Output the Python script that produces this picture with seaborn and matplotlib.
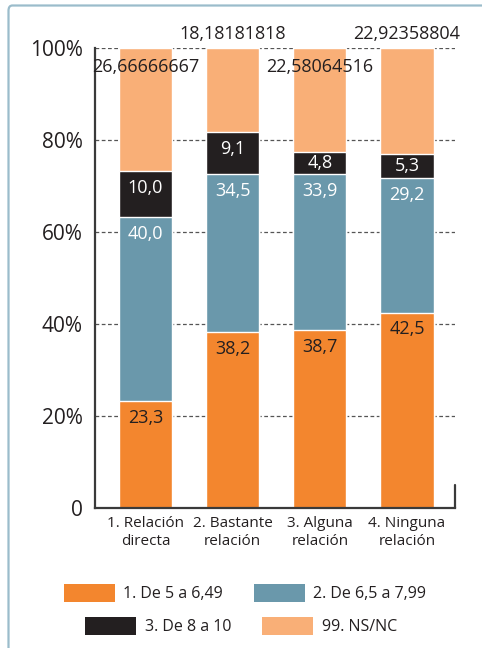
import matplotlib
matplotlib.use("Agg")
import matplotlib.pyplot as plt
from matplotlib.patches import Rectangle, FancyBboxPatch
import seaborn as sns
import numpy as np
import pandas as pd

# ---- data ----
categories = ["1. Relación\ndirecta", "2. Bastante\nrelación", "3. Alguna\nrelación", "4. Ninguna\nrelación"]
serie_1 = [23.3, 38.2, 38.7, 42.5]          # 1. De 5 a 6,49
serie_2 = [40.0, 34.5, 33.9, 29.2]          # 2. De 6,5 a 7,99
serie_3 = [10.0, 9.1, 4.8, 5.3]             # 3. De 8 a 10
serie_99 = [26.66666667, 18.18181818, 22.58064516, 22.92358804]  # 99. NS/NC
series_names = ["1. De 5 a 6,49", "2. De 6,5 a 7,99", "3. De 8 a 10", "99. NS/NC"]
yticks = [0, 20, 40, 60, 80, 100]
ytick_labels = ["0", "20%", "40%", "60%", "80%", "100%"]

colors = ["#F3862E", "#6A98AB", "#231F20", "#F9AF77"]
label_colors = ["#231F20", "white", "white", "#231F20"]
dark = "#231F20"

sns.set_theme(style="white")
plt.rcParams["font.family"] = ["Open Sans", "DejaVu Sans"]

fig = plt.figure(figsize=(4.82, 6.48), dpi=100)
ax = fig.add_axes([95 / 482, 1 - 508 / 648, (455 - 95) / 482, 460 / 648])

values = np.array([serie_1, serie_2, serie_3, serie_99])
cum = np.cumsum(values, axis=0)

# draw from top (cumulative) down so lower series overlay
for k in range(len(series_names) - 1, -1, -1):
    df = pd.DataFrame({"cat": categories, "val": cum[k]})
    sns.barplot(data=df, x="cat", y="val", color=colors[k], saturation=1,
                width=0.61, ax=ax, order=categories, zorder=2)

ax.set_xlim(-0.58, 3.55)
ax.set_ylim(0, 100)

px_per_unit = 460 / 100.0

# segment labels
for k in range(3):
    for i in range(len(categories)):
        top = cum[k][i]
        h = values[k][i]
        off = min(17 / px_per_unit, h / 2)
        ax.text(i, top - off, f"{values[k][i]:.1f}".replace(".", ","),
                ha="center", va="center", fontsize=13, color=label_colors[k], zorder=5)

# NS/NC labels (alternating inside / above)
for i in range(len(categories)):
    txt = f"{serie_99[i]:.8f}".replace(".", ",")
    if i % 2 == 0:
        y = 100 - 19 / px_per_unit
    else:
        y = 100 + 14 / px_per_unit
    ax.text(i, y, txt, ha="center", va="center", fontsize=13, color=dark,
            zorder=5, clip_on=False)

# grid
for yv in yticks[1:]:
    ax.axhline(yv, color="#555555", lw=0.9, ls=(0, (3, 2)), zorder=1)

ax.set_yticks(yticks)
ax.set_yticklabels(ytick_labels)
ax.tick_params(axis="y", length=0, pad=9, labelsize=15, labelcolor=dark)
ax.tick_params(axis="x", length=0, pad=6, labelsize=11, labelcolor=dark)
ax.set_xlabel("")
ax.set_ylabel("")

for s in ["top", "right"]:
    ax.spines[s].set_visible(False)
for s in ["left", "bottom"]:
    ax.spines[s].set_color("#3a3a3a")
    ax.spines[s].set_linewidth(1.6)
ax.axvline(3.55, ymin=0, ymax=0.05, color="#3a3a3a", lw=1.6, clip_on=False)

# legend (two rows)
def handles(idx):
    return [Rectangle((0, 0), 1, 1, fc=colors[j], ec="none") for j in idx]

leg_kw = dict(frameon=False, handlelength=3.2, handleheight=1.4, handletextpad=0.55,
              columnspacing=1.9, fontsize=11.5, ncol=2, loc="center", labelcolor=dark,
              borderpad=0, borderaxespad=0)
leg1 = fig.legend(handles([0, 1]), [series_names[0], series_names[1]],
                  bbox_to_anchor=(245 / 482, 1 - 593 / 648), **leg_kw)
leg2 = fig.legend(handles([2, 3]), [series_names[2], series_names[3]],
                  bbox_to_anchor=(241 / 482, 1 - 626 / 648), **leg_kw)

# figure border (top and left visible)
fig.add_artist(FancyBboxPatch((8.5 / 482, -0.1), 1.2, 1 - 5.5 / 648 + 0.1,
                              boxstyle="round,pad=0,rounding_size=0.008",
                              transform=fig.transFigure, ec="#9BBCCB", fc="none", lw=1.6))

fig.savefig("out.png", dpi=100)
